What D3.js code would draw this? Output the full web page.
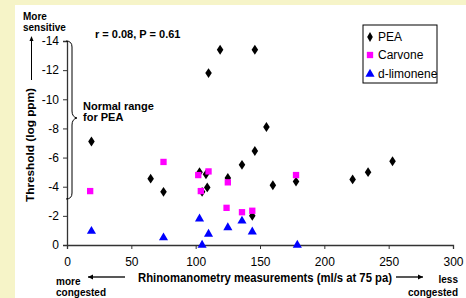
<!DOCTYPE html>
<html><head><meta charset="utf-8">
<script src="https://cdn.jsdelivr.net/npm/d3@7"></script>
<style>body{margin:0;background:#f6f4c8;}svg{display:block;}</style>
</head><body>
<svg id="c" width="466" height="298"></svg>
<script>
const xTicks = [0, 50, 100, 150, 200, 250, 300];
const yTicks = [0, -2, -4, -6, -8, -10, -12, -14];
const seriesNames = ["PEA", "Carvone", "d-limonene"];
const peaX = [19, 65, 75, 103, 105, 108, 109, 110, 119, 125, 136, 144, 146, 146, 155, 160, 178, 222, 234, 253];
const peaY = [-7.1, -4.55, -3.65, -5.0, -3.65, -4.85, -3.95, -11.8, -13.4, -4.6, -5.5, -2.0, -6.45, -13.4, -8.1, -4.1, -4.35, -4.5, -5.0, -5.75];
const carX = [18, 75, 102, 104, 110, 124, 125, 136, 144, 178];
const carY = [-3.7, -5.7, -4.8, -3.7, -5.05, -2.55, -4.3, -2.25, -2.35, -4.8];
const limX = [19, 75, 103, 105, 110, 125, 136, 144, 179];
const limY = [-0.95, -0.5, -1.8, 0, -0.75, -1.2, -1.65, -0.9, 0];

const svg = d3.select("#c");
svg.append("rect").attr("x", 15).attr("y", 5).attr("width", 451).attr("height", 293).attr("fill", "#fff");

const x = d3.scaleLinear().domain([0, 300]).range([67, 453]);
const y = d3.scaleLinear().domain([0, -14]).range([245, 41]);
const font = "Arial, 'Liberation Sans', sans-serif";

const gx = svg.append("g").attr("transform", "translate(0,245)")
  .call(d3.axisBottom(x).tickValues(xTicks).tickSize(4).tickPadding(8).tickFormat(d3.format("d")));
const gy = svg.append("g").attr("transform", "translate(67,0)")
  .call(d3.axisLeft(y).tickValues(yTicks).tickSize(4).tickPadding(4).tickFormat(d => d === 0 ? "0" : "-" + Math.abs(d)));
[gx, gy].forEach(g => {
  g.selectAll("text").attr("font-family", font).attr("font-size", 12).attr("fill", "#000");
  g.select(".domain").attr("stroke", "#333").attr("stroke-width", 1.3);
  g.selectAll(".tick line").attr("stroke", "#333");
});

// markers
const sym = [d3.symbolDiamond, d3.symbolSquare, d3.symbolTriangle];
const cols = ["#000", "#ff00ff", "#0000ff"];
const sizes = [28, 40, 36];
const sets = [[peaX, peaY], [carX, carY], [limX, limY]];
sets.forEach((s, i) => {
  svg.append("g").selectAll("path").data(s[0].map((v, j) => [v, s[1][j]])).enter()
    .append("path")
    .attr("d", d3.symbol().type(sym[i]).size(sizes[i]))
    .attr("transform", d => `translate(${x(d[0])},${y(d[1])})` + (i === 0 ? " scale(1.15,1)" : ""))
    .attr("fill", cols[i]);
});

// legend
const lg = svg.append("g");
lg.append("rect").attr("x", 363).attr("y", 25).attr("width", 74).attr("height", 58)
  .attr("fill", "#fff").attr("stroke", "#000").attr("stroke-width", 1);
seriesNames.forEach((n, i) => {
  const yy = [37, 55, 74][i];
  lg.append("path").attr("d", d3.symbol().type(sym[i]).size(sizes[i]))
    .attr("transform", `translate(370,${yy})`).attr("fill", cols[i]);
  lg.append("text").attr("x", 378).attr("y", yy + 4).text(n)
    .attr("font-family", font).attr("font-size", 12).attr("fill", "#000");
});

// texts
function t(xp, yp, s, size, anchor, bold) {
  return svg.append("text").attr("x", xp).attr("y", yp).text(s)
    .attr("font-family", font).attr("font-size", size)
    .attr("font-weight", bold ? "bold" : "normal")
    .attr("text-anchor", anchor || "start").attr("fill", "#000");
}
t(95, 38, "r = 0.08, P = 0.61", 11, "start", true);
t(83, 110, "Normal range", 11, "start", true);
t(83, 121, "for PEA", 11, "start", true);
t(23, 20, "More", 10, "start", true);
t(23, 31, "sensitive", 10, "start", true);
svg.append("text").attr("transform", "translate(34,145) rotate(-90)")
  .attr("text-anchor", "middle").text("Threshold (log ppm)")
  .attr("font-family", font).attr("font-size", 11).attr("font-weight", "bold")
  .attr("textLength", 114).attr("lengthAdjust", "spacingAndGlyphs");
t(265, 282, "Rhinomanometry measurements (ml/s at 75 pa)", 12, "middle", true)
  .attr("textLength", 254).attr("lengthAdjust", "spacingAndGlyphs");
t(56, 285, "more", 10, "start", true);
t(56, 296, "congested", 10, "start", true);
t(458, 283, "less", 10, "end", true);
t(458, 296, "congested", 10, "end", true);

// arrows (rect shaft + head polygon)
function hArrow(x1, x2, yy) {
  const lo = Math.min(x1, x2), hi = Math.max(x1, x2);
  svg.append("rect").attr("x", lo).attr("y", yy - 0.75).attr("width", hi - lo).attr("height", 1.5).attr("fill", "#222");
  const d = x2 > x1 ? 1 : -1;
  svg.append("path").attr("d", `M${x2},${yy}L${x2 - 5 * d},${yy - 2.5}L${x2 - 5 * d},${yy + 2.5}Z`).attr("fill", "#000");
}
svg.append("rect").attr("x", 31).attr("y", 40).attr("width", 1).attr("height", 40).attr("fill", "#000");
svg.append("path").attr("d", "M31.5,36L29.5,41L33.5,41Z").attr("fill", "#000");
hArrow(125, 88, 277);
hArrow(396, 423, 277);

// brace
svg.append("path")
  .attr("d", "M66,41 Q72,41 72,47 L72,111 Q72,117 77,118 Q72,119 72,125 L72,193 Q72,199 66,199")
  .attr("fill", "none").attr("stroke", "#000").attr("stroke-width", 1);
</script>
</body></html>
